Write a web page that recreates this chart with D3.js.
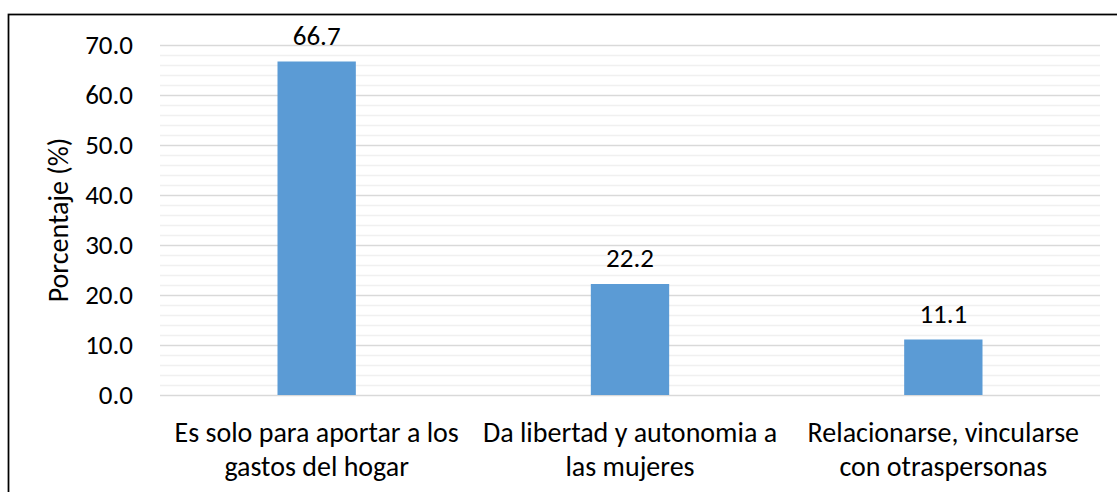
<!DOCTYPE html>
<html>
<head>
<meta charset="utf-8">
<script src="https://cdn.jsdelivr.net/npm/d3@7"></script>
<style>
  body { margin: 0; background: #fff; }
  text { font-family: Carlito, Calibri, Lato, sans-serif; fill: #000; }
</style>
</head>
<body>
<div id="chart"></div>
<script>
// categories and values
let categorias = [
    ["Es solo para aportar a los", "gastos del hogar"],
    ["Da libertad y autonomia a", "las mujeres"],
    ["Relacionarse, vincularse", "con otraspersonas"]
];
let porcentajes = [66.7, 22.2, 11.1];
let ticks_y = [0, 10, 20, 30, 40, 50, 60, 70];
let ticks_menores = d3.range(0, 71, 2);

let w = 1117, h = 492;
let margin = {left: 160, right: 17, top: 45, bottom: 97};

let svg = d3.select("#chart").append("svg")
    .attr("width", w)
    .attr("height", h);

// outer frame (cut by the image edge on the right and bottom)
svg.append("rect")
    .attr("x", 8.5).attr("y", 14.5)
    .attr("width", w + 20).attr("height", h + 20)
    .style("fill", "none")
    .style("stroke", "#000")
    .style("stroke-width", 1.75);

let x = d3.scaleBand()
    .domain(d3.range(categorias.length))
    .range([margin.left, w - margin.right])
    .paddingInner(0.75)
    .paddingOuter(0.375);

let y = d3.scaleLinear()
    .domain([0, 70])
    .range([h - margin.bottom, margin.top]);

let g = svg.append("g");

// minor gridlines
g.selectAll(".minor")
    .data(ticks_menores.filter(function(d){ return d % 10 !== 0; }))
    .enter().append("line")
    .attr("x1", margin.left).attr("x2", w - margin.right)
    .attr("y1", function(d){ return Math.round(y(d)) + 0.5; })
    .attr("y2", function(d){ return Math.round(y(d)) + 0.5; })
    .style("stroke", "#f0f0f0")
    .style("stroke-width", 1.5);

// major gridlines
g.selectAll(".major")
    .data(ticks_y)
    .enter().append("line")
    .attr("x1", margin.left).attr("x2", w - margin.right)
    .attr("y1", function(d){ return Math.round(y(d)) + 0.5; })
    .attr("y2", function(d){ return Math.round(y(d)) + 0.5; })
    .style("stroke", "#d9d9d9")
    .style("stroke-width", 1.5);

// y axis labels
let yAxis = d3.axisLeft(y)
    .tickValues(ticks_y)
    .tickFormat(d3.format(".1f"))
    .tickSize(0)
    .tickPadding(27);

let ya = svg.append("g")
    .attr("transform", "translate(" + margin.left + ",0)")
    .call(yAxis);
ya.select(".domain").remove();
ya.selectAll("text")
    .style("font-size", "27px")
    .attr("font-family", null);

// bars
svg.selectAll(".bar")
    .data(porcentajes)
    .enter().append("rect")
    .attr("class", "bar")
    .attr("x", function(d, i){ return x(i); })
    .attr("width", x.bandwidth())
    .attr("y", function(d){ return y(d); })
    .attr("height", function(d){ return y(0) - y(d); })
    .style("fill", "#5b9bd5");

// data labels
svg.selectAll(".etiqueta")
    .data(porcentajes)
    .enter().append("text")
    .attr("x", function(d, i){ return x(i) + x.bandwidth() / 2; })
    .attr("y", function(d){ return y(d) - 17; })
    .attr("text-anchor", "middle")
    .style("font-size", "27px")
    .text(function(d){ return d3.format(".1f")(d); });

// category labels, two lines each
let cat = svg.selectAll(".cat")
    .data(categorias)
    .enter().append("text")
    .attr("text-anchor", "middle")
    .style("font-size", "28px");

cat.selectAll("tspan")
    .data(function(d, i){ return d.map(function(t){ return {t: t, i: i}; }); })
    .enter().append("tspan")
    .attr("x", function(d){ return x(d.i) + x.bandwidth() / 2; })
    .attr("y", function(d, j){ return 442 + j * 34; })
    .text(function(d){ return d.t; });

// y axis title
svg.append("text")
    .attr("transform", "translate(68," + ((y(0) + y(70)) / 2) + ") rotate(-90)")
    .attr("text-anchor", "middle")
    .style("font-size", "28px")
    .text("Porcentaje (%)");
</script>
</body>
</html>
